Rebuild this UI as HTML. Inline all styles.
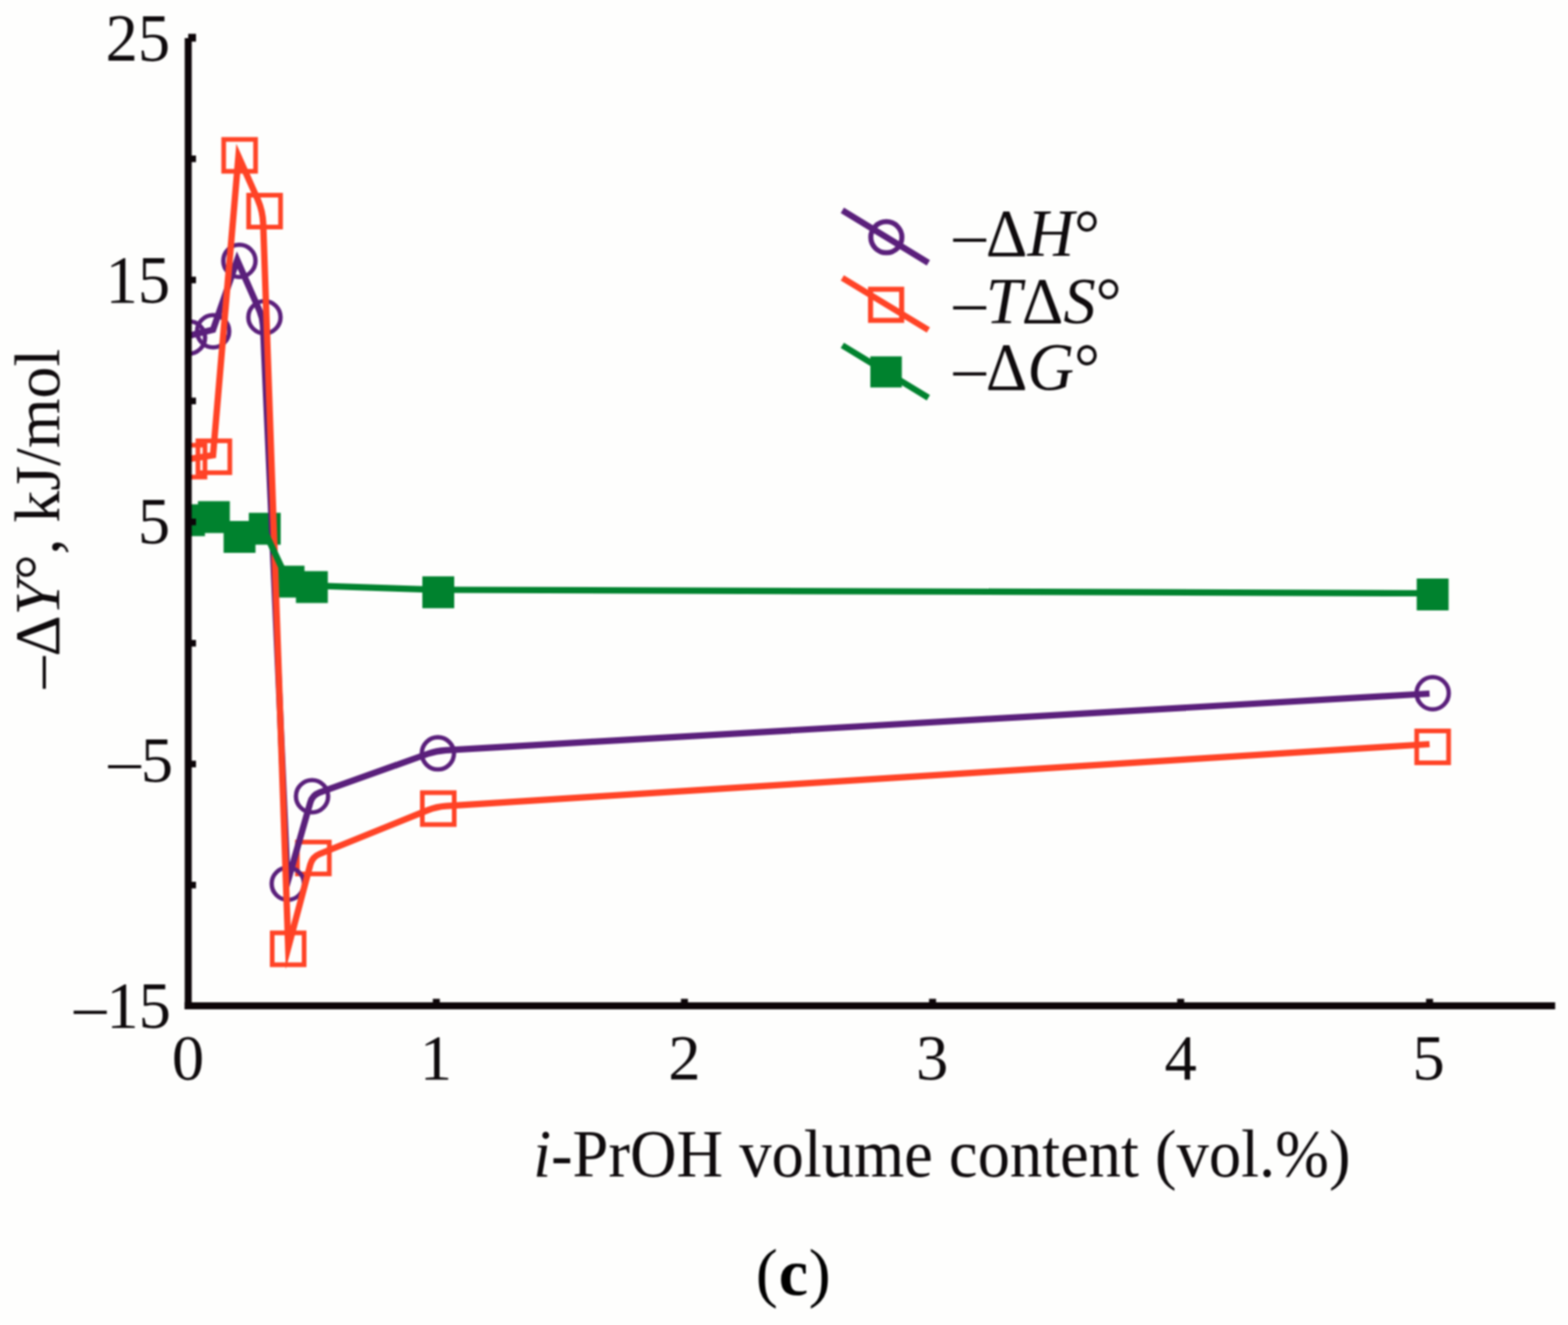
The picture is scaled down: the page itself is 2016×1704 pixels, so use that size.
<!DOCTYPE html>
<html>
<head>
<meta charset="utf-8">
<style>
html,body{margin:0;padding:0;background:#fefefd;}
body{width:2016px;height:1704px;overflow:hidden;}
svg{display:block;filter:blur(0.8px);}
text{font-family:"Liberation Serif","Times New Roman",serif;fill:#0e0a0c;}
.it{font-style:italic;}
</style>
</head>
<body>
<svg width="2016" height="1704" viewBox="0 0 2016 1704">
<rect x="0" y="0" width="2016" height="1704" fill="#fefefd"/>
<defs>
<clipPath id="pa"><rect x="242" y="0" width="1774" height="1300"/></clipPath>
</defs>

<!-- data -->
<g clip-path="url(#pa)">
  <g fill="#00822e">
    <rect x="222.5" y="648.5" width="41" height="41"/>
    <rect x="254.5" y="644.5" width="41" height="41"/>
    <rect x="287.5" y="670" width="41" height="41"/>
    <rect x="319.9" y="659.5" width="41" height="41"/>
    <rect x="350.5" y="727.5" width="41" height="41"/>
    <rect x="380.5" y="734.5" width="41" height="41"/>
    <rect x="543" y="741.2" width="41" height="41"/>
    <rect x="1821.5" y="744" width="41" height="41"/>
  </g>
  <g fill="none" stroke="#ff4326" stroke-width="6">
    <rect x="222.5" y="572.5" width="41" height="41"/>
    <rect x="254.5" y="566.9" width="41" height="41"/>
    <rect x="287.6" y="179.3" width="41" height="41"/>
    <rect x="319.7" y="251" width="41" height="41"/>
    <rect x="350" y="1199.7" width="41" height="41"/>
    <rect x="382.4" y="1082.9" width="41" height="41"/>
    <rect x="543" y="1019.4" width="41" height="41"/>
    <rect x="1821.5" y="940" width="41" height="41"/>
  </g>
  <g fill="none" stroke="#5a1f7b" stroke-width="5.6">
    <circle cx="243" cy="434" r="20.7"/>
    <circle cx="274" cy="426" r="20.7"/>
    <circle cx="307.8" cy="335.5" r="20.7"/>
    <circle cx="340" cy="408" r="20.7"/>
    <circle cx="370" cy="1136.5" r="20.7"/>
    <circle cx="401.2" cy="1024" r="20.7"/>
    <circle cx="563" cy="968.8" r="20.7"/>
    <circle cx="1842" cy="891.5" r="20.7"/>
  </g>
  <path fill="none" stroke="#5a1f7b" stroke-width="8.2" stroke-linejoin="miter" stroke-miterlimit="10" d="M242,432 L273.9,424 L305,334.5 L333.8,399.8 Q337.8,409 338.2,419.0 L369.7,1134.5 L398.9,1032.1 Q401.6,1022.5 411.0,1019.1 L549.9,969.5 Q561.2,965.5 573.2,964.8 L1838,892"/>
  <path fill="none" stroke="#ff4326" stroke-width="8.2" stroke-linejoin="miter" stroke-miterlimit="10" d="M242,590.5 L273.9,585.4 L306.6,201 L331.6,257.1 Q337.8,271.5 338.4,287.5 L370.6,1218.6 L399.0,1111.7 Q401.6,1102 410.9,1098.2 L550.1,1041.9 Q561.2,1037.4 573.2,1036.6 L1838,957"/>
  <path fill="none" stroke="#00822e" stroke-width="8.2" stroke-linejoin="miter" stroke-miterlimit="10" d="M242,667 L273.9,663 L305.8,688.5 L337.8,678 L369.7,746 L393.8,751.3 Q401.6,753 409.6,753.3 L551.2,758.2 Q561.2,758.5 571.2,758.5 L1838,763"/>
</g>


<!-- axes -->
<g fill="#0c0508">
  <rect x="237.5" y="49" width="9" height="1249"/>
  <rect x="237.5" y="1289" width="1762" height="9"/>
  <!-- y ticks -->
  <rect x="242" y="43.5" width="10" height="10"/>
  <rect x="242" y="200" width="10" height="8.5"/>
  <rect x="242" y="355.8" width="10" height="8.5"/>
  <rect x="242" y="511.4" width="10" height="8.5"/>
  <rect x="242" y="667" width="10" height="8.5"/>
  <rect x="242" y="823" width="10" height="8.5"/>
  <rect x="242" y="978.3" width="10" height="8.5"/>
  <rect x="242" y="1134" width="10" height="8.5"/>
  <!-- x ticks -->
  <rect x="556.5" y="1284.5" width="9" height="8"/>
  <rect x="875.5" y="1284.5" width="9" height="8"/>
  <rect x="1194.5" y="1284.5" width="9" height="8"/>
  <rect x="1513.5" y="1284.5" width="9" height="8"/>
  <rect x="1833.5" y="1284.5" width="9" height="8"/>
</g>

<!-- y tick labels -->
<g font-size="83" text-anchor="end">
  <text transform="translate(218.8,77.5) scale(1,1.04)">25</text>
  <text transform="translate(218.8,389) scale(1,1.04)">15</text>
  <text transform="translate(218.8,699) scale(1,1.03)">5</text>
  <text transform="translate(222.6,1005.4)">–5</text>
  <text transform="translate(219.7,1321.7) scale(1,1.03)">–15</text>
</g>
<!-- x tick labels -->
<g font-size="83" text-anchor="middle">
  <text x="241.8" y="1387.6">0</text>
  <text x="560.4" y="1387.6">1</text>
  <text x="880" y="1387.6">2</text>
  <text x="1198.5" y="1387.6">3</text>
  <text x="1518" y="1387.6">4</text>
  <text x="1836.7" y="1387.6">5</text>
</g>

<!-- x axis title -->
<text transform="translate(685.4,1512.7) scale(1,1.04)" font-size="83"><tspan class="it">i</tspan>-PrOH volume content (vol.%)</text>

<!-- y axis title -->
<text transform="translate(76.4,885.2) rotate(-90)" font-size="82">–Δ<tspan class="it">Y</tspan>°, kJ/mol</text>

<!-- legend -->
<g>
  <line x1="1083" y1="270.5" x2="1193.6" y2="338" stroke="#5a1f7b" stroke-width="8"/>
  <circle cx="1139.6" cy="305.1" r="20" fill="none" stroke="#5a1f7b" stroke-width="6.5"/>
  <line x1="1083" y1="357.4" x2="1193.6" y2="424.4" stroke="#ff4326" stroke-width="8"/>
  <rect x="1119.3" y="372" width="40" height="40" fill="none" stroke="#ff4326" stroke-width="6.5"/>
  <line x1="1083" y1="444.2" x2="1193.6" y2="511.5" stroke="#00822e" stroke-width="8"/>
  <rect x="1119" y="458.3" width="40.5" height="40" fill="#00822e"/>
  <text transform="translate(1226.1,329.2) scale(1,1.04)" font-size="83">–Δ<tspan class="it">H</tspan>°</text>
  <text transform="translate(1226.1,415.9) scale(1,1.03)" font-size="83">–<tspan class="it">T</tspan>Δ<tspan class="it">S</tspan>°</text>
  <text transform="translate(1226.1,500.7) scale(1,1.04)" font-size="83">–Δ<tspan class="it">G</tspan>°</text>
</g>

<!-- panel label -->
<text x="1020.5" y="1665" font-size="85" text-anchor="middle" letter-spacing="1" style="fill:#000">(<tspan font-weight="bold">c</tspan>)</text>
</svg>
</body>
</html>
